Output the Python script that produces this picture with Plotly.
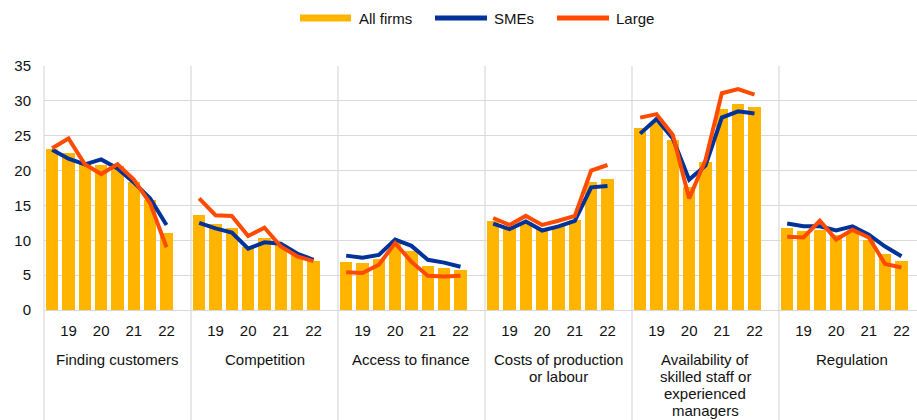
import plotly.graph_objects as go

# obstacles faced by firms, % of firms, half-year survey rounds
categories = ["Finding customers", "Competition", "Access to finance",
              "Costs of production<br>or labour",
              "Availability of<br>skilled staff or<br>experienced<br>managers",
              "Regulation"]
periods = ["18H2", "19H1", "19H2", "20H1", "20H2", "21H1", "21H2", "22H1"]
tick_labels = ["19", "20", "21", "22"]

all_firms = [
    23.1, 22.5, 20.9, 20.8, 20.6, 18.4, 15.8, 11.0,
    13.6, 12.3, 11.7, 9.0, 10.3, 9.3, 7.9, 7.0,
    6.9, 6.7, 7.3, 9.6, 8.4, 6.3, 6.0, 5.7,
    12.7, 11.9, 12.6, 11.6, 12.1, 12.9, 18.4, 18.8,
    26.1, 27.0, 24.4, 17.6, 21.3, 28.8, 29.5, 29.1,
    11.7, 11.3, 11.5, 10.8, 11.2, 10.0, 8.1, 7.1,
]
smes = [
    23.0, 21.7, 20.9, 21.6, 20.3, 18.3, 16.0, 12.2,
    12.5, 11.7, 11.1, 8.8, 9.7, 9.5, 8.1, 7.2,
    7.8, 7.5, 7.9, 10.1, 9.2, 7.2, 6.8, 6.2,
    12.4, 11.6, 12.7, 11.4, 12.0, 12.8, 17.6, 17.8,
    25.3, 27.4, 24.6, 18.7, 20.7, 27.6, 28.5, 28.2,
    12.4, 12.0, 12.0, 11.4, 12.0, 10.8, 9.1, 7.7,
]
large = [
    23.2, 24.6, 20.9, 19.5, 20.9, 18.7, 15.3, 9.0,
    16.0, 13.6, 13.5, 10.6, 11.8, 9.1, 7.7, 7.0,
    5.4, 5.3, 6.5, 9.6, 6.9, 4.9, 4.8, 4.9,
    13.2, 12.2, 13.5, 12.2, 12.8, 13.5, 20.0, 20.8,
    27.6, 28.1, 25.1, 16.0, 21.5, 31.1, 31.7, 30.9,
    10.5, 10.4, 12.8, 10.1, 11.5, 10.4, 6.6, 6.1,
]

YELLOW = "#FFB400"
BLUE = "#003299"
ORANGE = "#FF4B00"
GRID = "#d9d9d9"
FONT = "Arial, Liberation Sans, sans-serif"

n = len(periods)
slot = n + 1  # one empty slot after each group
xpos = [g * slot + k for g in range(len(categories)) for k in range(n)]


def with_gaps(vals):
    # break the line between groups
    xs, ys = [], []
    for g in range(len(categories)):
        xs += xpos[g * n:(g + 1) * n] + [None]
        ys += vals[g * n:(g + 1) * n] + [None]
    return xs, ys


fig = go.Figure()
fig.add_trace(go.Bar(x=xpos, y=all_firms, width=0.77, marker=dict(color=YELLOW, line=dict(width=0)),
                     name="All firms", showlegend=False))
for vals, col, nm in [(smes, BLUE, "SMEs"), (large, ORANGE, "Large")]:
    xs, ys = with_gaps(vals)
    fig.add_trace(go.Scatter(x=xs, y=ys, mode="lines", name=nm, showlegend=False,
                             line=dict(color=col, width=4), connectgaps=False))

xr = [-0.5, 52.95]
tickvals = [g * slot + k for g in range(len(categories)) for k in (1, 3, 5, 7)]
ticktext = tick_labels * len(categories)

# pixel helpers for the plot box (44..917 wide, 66..310 high)
W, PH = 873.0, 244.0


def px(v):
    return (v - xr[0]) / (xr[1] - xr[0])


def pxx(p):
    return (p - 44) / W


def pyy(p):
    return (310 - p) / PH


shapes = []
for g in range(len(categories) + 1):
    xp = px(g * slot - 0.5)
    if xp <= 1:
        shapes.append(dict(type="line", xref="paper", yref="paper", x0=xp, x1=xp, y0=1, y1=-0.46,
                           line=dict(color=GRID, width=1.2), layer="below"))

# category labels, one annotation per line for tight line spacing
annotations = []
for g, c in enumerate(categories):
    for i, part in enumerate(c.split("<br>")):
        annotations.append(dict(x=g * slot + 4.0, xref="x", y=pyy(359 + 17 * i), yref="paper", text=part,
                                showarrow=False, xanchor="center", yanchor="middle",
                                font=dict(size=15, color="#111", family=FONT)))

# legend drawn by hand: wide swatches like the original
legend_items = [("All firms", YELLOW, "bar", 300, 351, 357),
                ("SMEs", BLUE, "line", 435, 487, 492),
                ("Large", ORANGE, "line", 557, 609, 614)]
for name, col, kind, a, b, t in legend_items:
    if kind == "bar":
        shapes.append(dict(type="rect", xref="paper", yref="paper", x0=pxx(a), x1=pxx(b),
                           y0=pyy(21.5), y1=pyy(14.5), fillcolor=col, line=dict(width=0)))
    else:
        shapes.append(dict(type="line", xref="paper", yref="paper", x0=pxx(a), x1=pxx(b),
                           y0=pyy(18), y1=pyy(18), line=dict(color=col, width=5)))
    annotations.append(dict(x=pxx(t), xref="paper", y=pyy(18), yref="paper", text=name, showarrow=False,
                            xanchor="left", yanchor="middle", font=dict(size=15, color="#111", family=FONT)))

fig.update_layout(
    width=917, height=420,
    margin=dict(l=44, r=0, t=66, b=110, autoexpand=False),
    plot_bgcolor="white", paper_bgcolor="white",
    font=dict(family=FONT, size=15, color="#111"),
    bargap=0,
    showlegend=False,
    hovermode=False,
    shapes=shapes,
    annotations=annotations,
    xaxis=dict(range=xr, tickmode="array", tickvals=tickvals, ticktext=ticktext,
               showgrid=False, zeroline=False, showline=False, ticks="", automargin=False,
               ticklabelstandoff=10, tickfont=dict(size=15)),
    yaxis=dict(range=[0, 35], dtick=5, showgrid=True, gridcolor=GRID, gridwidth=1,
               zeroline=True, zerolinecolor=GRID, zerolinewidth=1, showline=False, ticks="",
               automargin=False, ticklabelstandoff=12, tickfont=dict(size=15)),
)

# drop the browser's default 8px page margin so the figure sits at the top-left corner
fig.write_html("out.html", config={"displayModeBar": False},
               post_script="document.body.style.margin='0';")
